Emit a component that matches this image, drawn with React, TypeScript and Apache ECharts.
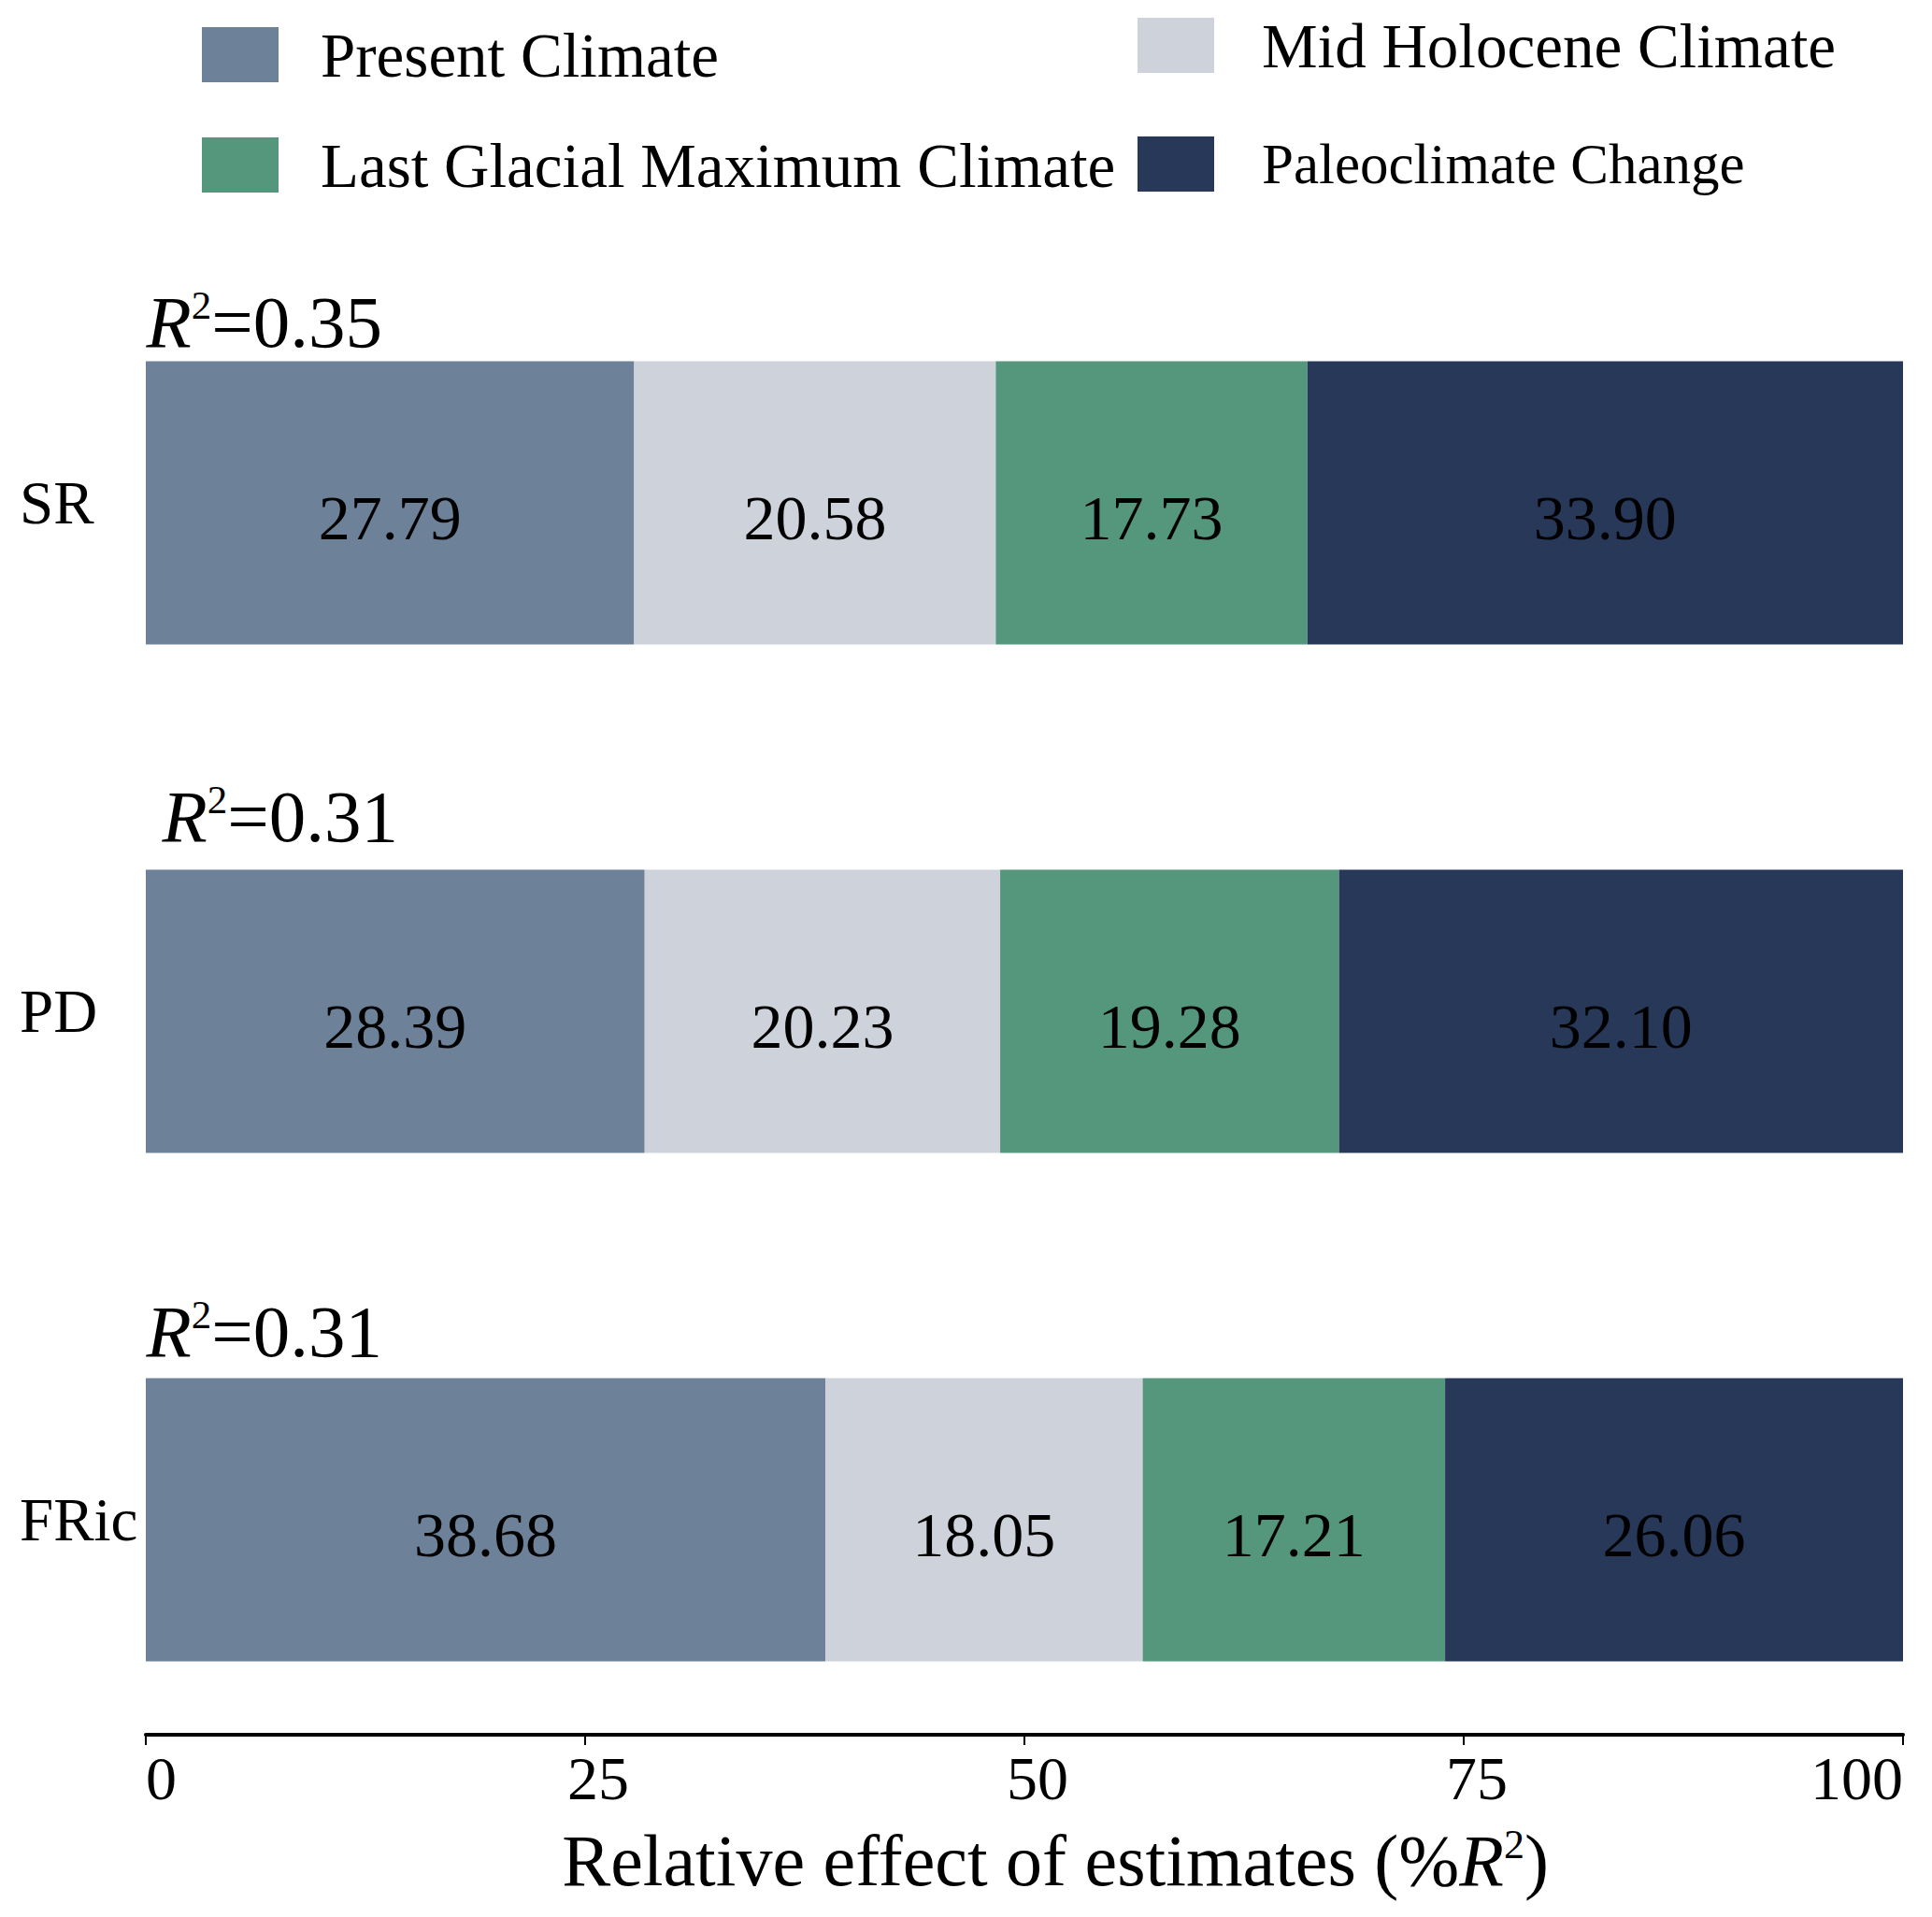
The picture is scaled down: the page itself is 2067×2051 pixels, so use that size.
import React, { useEffect, useRef } from 'react';
import * as echarts from 'echarts';

// ---- data ----
const categories = ['SR', 'PD', 'FRic'];
const seriesNames = [
  'Present Climate',
  'Mid Holocene Climate',
  'Last Glacial Maximum Climate',
  'Paleoclimate Change',
];
const presentClimate = [27.79, 28.39, 38.68];
const midHolocene = [20.58, 20.23, 18.05];
const lastGlacialMax = [17.73, 19.28, 17.21];
const paleoChange = [33.9, 32.1, 26.06];
const r2Values = ['0.35', '0.31', '0.31'];
const xTickMin = 0;
const xTickMax = 100;
const xTickInterval = 25;

// ---- styles / layout ----
const colors = ['#6D8199', '#CDD2DB', '#55977D', '#273859'];
const FONT = '"Liberation Serif", "Times New Roman", serif';
const r2LabelOffsets = [
  [0, -194],
  [17, -209],
  [0, -202],
];
const legendLayout = [
  { left: 216, top: 25, pad: 40, size: 67 },
  { left: 1217, top: 15, pad: 46, size: 67 },
  { left: 216, top: 143, pad: 40, size: 67 },
  { left: 1217, top: 145, pad: 46, size: 61 },
];

export default function App() {
  const ref = useRef<HTMLDivElement>(null);

  useEffect(() => {
    if (!ref.current) return;
    const chart = echarts.init(ref.current, undefined, { renderer: 'svg' });
    const seriesData = [presentClimate, midHolocene, lastGlacialMax, paleoChange];

    const barSeries = seriesNames.map((name, i) => ({
      name,
      type: 'bar',
      stack: 'total',
      barWidth: 303,
      data: seriesData[i],
      itemStyle: { color: colors[i] },
      emphasis: { disabled: true },
      label: {
        show: true,
        position: 'inside',
        color: '#000',
        fontSize: 68,
        fontFamily: FONT,
        offset: [0, 16],
        formatter: (p: any) => Number(p.value).toFixed(2),
      },
    }));

    const r2Series = {
      type: 'scatter',
      silent: true,
      symbolSize: 1,
      itemStyle: { color: 'rgba(0,0,0,0)', opacity: 1 },
      emphasis: { disabled: true },
      z: 5,
      data: categories.map((c, i) => ({
        value: [0, c],
        label: { offset: r2LabelOffsets[i] },
      })),
      label: {
        show: true,
        position: 'right',
        distance: 0,
        color: '#000',
        opacity: 1,
        formatter: (p: any) => `{i|R}{s|2}{n|=${r2Values[p.dataIndex]}}`,
        rich: {
          i: { fontSize: 79, fontStyle: 'italic', fontFamily: FONT, color: '#000' },
          s: { fontSize: 43, fontFamily: FONT, verticalAlign: 'top', color: '#000' },
          n: { fontSize: 79, fontFamily: FONT, color: '#000' },
        },
      },
    };

    const legends = seriesNames.map((name, i) => ({
      data: [name],
      left: legendLayout[i].left,
      top: legendLayout[i].top,
      padding: 0,
      itemWidth: 82,
      itemHeight: 59,
      icon: 'rect',
      selectedMode: false,
      textStyle: {
        fontSize: legendLayout[i].size,
        fontFamily: FONT,
        color: '#000',
        padding: [0, 0, 0, legendLayout[i].pad],
      },
    }));

    chart.setOption({
      animation: false,
      backgroundColor: '#fff',
      color: colors,
      legend: legends,
      grid: { left: 156, right: 31, top: 266, bottom: 153, containLabel: false },
      xAxis: {
        type: 'value',
        min: xTickMin,
        max: xTickMax,
        interval: xTickInterval,
        offset: -42,
        axisLine: { show: true, lineStyle: { color: '#000', width: 4 } },
        axisTick: { show: true, length: 11, lineStyle: { color: '#000', width: 2 } },
        splitLine: { show: false },
        axisLabel: {
          fontSize: 66,
          color: '#000',
          fontFamily: FONT,
          margin: 13,
          alignMinLabel: 'left',
          alignMaxLabel: 'right',
          formatter: (v: number) =>
            v === xTickMin || v === xTickMax ? `${v}` : `{m|${v}}`,
          rich: {
            m: { fontSize: 66, fontFamily: FONT, color: '#000', padding: [0, 0, 0, 28] },
          },
        },
        name: '{a|Relative effect of estimates (%}{i|R}{s|2}{a|)}',
        nameLocation: 'middle',
        nameGap: 95,
        nameTextStyle: {
          fontSize: 78,
          fontFamily: FONT,
          color: '#000',
          padding: [0, 0, 0, 66],
          rich: {
            a: { fontSize: 78, fontFamily: FONT, color: '#000' },
            i: { fontSize: 78, fontFamily: FONT, fontStyle: 'italic', color: '#000' },
            s: { fontSize: 44, fontFamily: FONT, verticalAlign: 'top', color: '#000' },
          },
        },
      },
      yAxis: {
        type: 'category',
        data: categories,
        inverse: true,
        axisLine: { show: false },
        axisTick: { show: false },
        splitLine: { show: false },
        axisLabel: {
          align: 'left',
          margin: 135,
          fontSize: 65,
          color: '#000',
          fontFamily: FONT,
        },
      },
      series: [...barSeries, r2Series],
    });

    return () => chart.dispose();
  }, []);

  return (
    <div
      ref={ref}
      style={{ position: 'fixed', left: 0, top: 0, width: 2067, height: 2051, background: '#fff' }}
    />
  );
}
